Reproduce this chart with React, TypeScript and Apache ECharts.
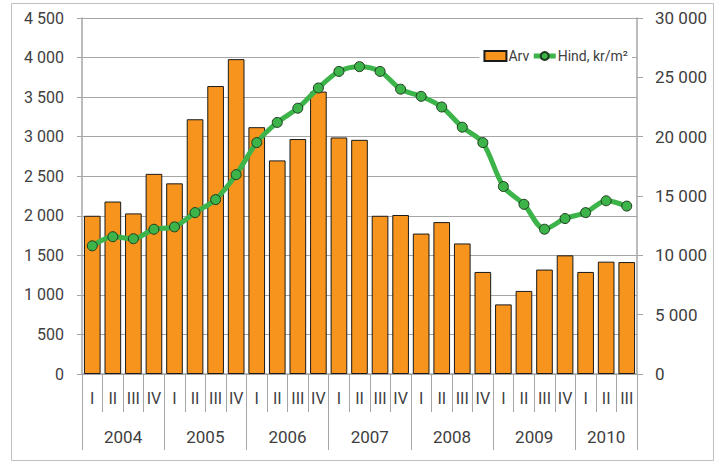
import React, { useEffect, useRef } from "react";
import * as echarts from "echarts";

const quarters = [
  "I", "II", "III", "IV",
  "I", "II", "III", "IV",
  "I", "II", "III", "IV",
  "I", "II", "III", "IV",
  "I", "II", "III", "IV",
  "I", "II", "III", "IV",
  "I", "II", "III",
];
const years = [
  "2004", "2004", "2004", "2004",
  "2005", "2005", "2005", "2005",
  "2006", "2006", "2006", "2006",
  "2007", "2007", "2007", "2007",
  "2008", "2008", "2008", "2008",
  "2009", "2009", "2009", "2009",
  "2010", "2010", "2010",
];
const arv = [
  2000, 2180, 2030, 2530,
  2410, 3220, 3640, 3980,
  3120, 2700, 2970, 3570,
  2990, 2960, 2000, 2010,
  1775, 1920, 1650, 1290,
  880, 1050, 1320, 1500,
  1290, 1420, 1415,
];
const hind = [
  10800, 11570, 11400, 12200,
  12400, 13600, 14700, 16800,
  19500, 21200, 22400, 24100,
  25500, 25900, 25500, 24000,
  23400, 22500, 20800, 19500,
  15800, 14300, 12200, 13100,
  13600, 14600, 14150,
];
const leftTicks = { min: 0, max: 4500, interval: 500 };
const rightTicks = { min: 0, max: 30000, interval: 5000 };

const fmt = (v: number) => String(v).replace(/\B(?=(\d{3})+(?!\d))/g, " ");

export default function App() {
  const ref = useRef<HTMLDivElement>(null);
  useEffect(() => {
    if (!ref.current) return;
    const chart = echarts.init(ref.current, undefined, { renderer: "svg" });
    const gray = "#a6a6a6";
    const txt = "#404040";
    const font = "Roboto";
    const catW = (724 - 82 - 87) / quarters.length;
    chart.setOption({
      animation: false,
      backgroundColor: "#fff",
      textStyle: { fontFamily: font },
      grid: { left: 82, right: 87, top: 18, bottom: 88, containLabel: false },
      graphic: [
        {
          type: "rect",
          shape: { x: 11.5, y: 3.5, width: 702, height: 457 },
          style: { fill: "none", stroke: "#bfbfbf", lineWidth: 1 },
          silent: true,
        },
      ],
      legend: {
        right: 92,
        top: 46,
        backgroundColor: "#fff",
        padding: [3, 4],
        itemGap: 2,
        itemWidth: 22,
        itemHeight: 10,
        textStyle: { fontSize: 14, color: txt, fontFamily: font, padding: [0, 0, 0, -3] },
        data: [
          { name: "Arv", icon: "rect" },
          { name: "Hind, kr/m²", lineStyle: { width: 5, color: "#3cb44a" } },
        ],
      },
      xAxis: [
        {
          type: "category",
          data: quarters,
          position: "bottom",
          axisLine: { show: true, lineStyle: { color: gray, width: 1.5 } },
          axisTick: { show: true, interval: 0, length: 38, lineStyle: { color: gray } },
          axisLabel: { interval: 0, margin: 16, fontSize: 16, color: txt, fontFamily: font },
        },
        {
          type: "category",
          data: years,
          position: "bottom",
          offset: 0,
          axisLine: { show: false },
          axisTick: {
            show: true,
            length: 76,
            interval: (i: number) => i % 4 === 0,
            lineStyle: { color: gray },
          },
          axisLabel: {
            interval: (i: number) => i % 4 === 1,
            margin: 54,
            fontSize: 17,
            color: txt,
            fontFamily: font,
            formatter: (v: string, i: number) => (i === 25 ? `{b|${v}}` : `{a|${v}}`),
            rich: {
              a: { padding: [0, 0, 0, catW], fontSize: 17, color: txt, fontFamily: font },
              b: { fontSize: 17, color: txt, fontFamily: font },
            },
          },
          splitLine: { show: false },
        },
      ],
      yAxis: [
        {
          type: "value",
          ...leftTicks,
          position: "left",
          axisLine: { show: true, lineStyle: { color: gray, width: 1.5 } },
          axisTick: { show: true, length: 5, lineStyle: { color: gray } },
          axisLabel: { margin: 18, fontSize: 16, color: txt, fontFamily: font, formatter: fmt },
          splitLine: { show: true, lineStyle: { color: gray, width: 1.2 } },
        },
        {
          type: "value",
          ...rightTicks,
          position: "right",
          axisLine: { show: true, lineStyle: { color: gray, width: 1.5 } },
          axisTick: { show: true, length: 6, lineStyle: { color: gray } },
          axisLabel: { margin: 18, fontSize: 17, color: txt, fontFamily: font, formatter: fmt },
          splitLine: { show: false },
        },
      ],
      series: [
        {
          name: "Arv",
          type: "bar",
          xAxisIndex: 0,
          yAxisIndex: 0,
          data: arv,
          barCategoryGap: "19%",
          itemStyle: { color: "#f7941d", borderColor: "#1a1a1a", borderWidth: 1 },
        },
        {
          name: "Hind, kr/m²",
          type: "line",
          xAxisIndex: 0,
          yAxisIndex: 1,
          data: hind,
          smooth: 0.3,
          symbol: "circle",
          symbolSize: 10,
          lineStyle: { color: "#3cb44a", width: 5 },
          itemStyle: { color: "#3cb44a", borderColor: "#1f3a1f", borderWidth: 1 },
          z: 5,
        },
      ],
    });
    return () => chart.dispose();
  }, []);
  return (
    <div
      ref={ref}
      style={{ position: "absolute", left: 0, top: 0, width: 724, height: 462 }}
    />
  );
}
